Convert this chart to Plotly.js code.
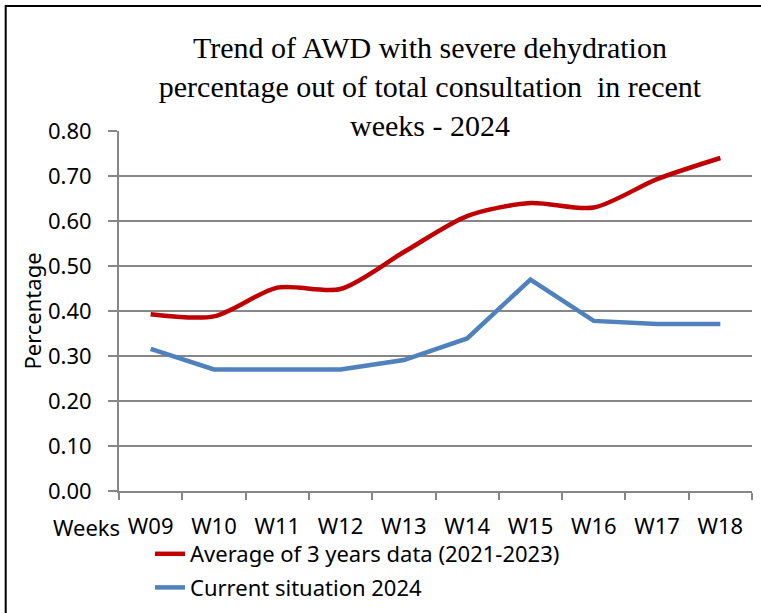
<!DOCTYPE html>
<html>
<head>
<meta charset="utf-8">
<script src="https://cdn.plot.ly/plotly-3.0.1.min.js"></script>
<style>html,body{margin:0;padding:0;background:#fff;}</style>
</head>
<body>
<div id="chart" style="width:761px;height:613px;"></div>
<script>
const weeks = ["W09","W10","W11","W12","W13","W14","W15","W16","W17","W18"];
const avg3Years = [0.393, 0.388, 0.452, 0.449, 0.531, 0.611, 0.640, 0.630, 0.693, 0.740];
const current2024 = [0.316, 0.270, 0.270, 0.270, 0.291, 0.339, 0.470, 0.378, 0.371, 0.371];
const seriesNames = ["Average of 3 years data (2021-2023)", "Current situation 2024"];

const sans = "Noto Sans, sans-serif";
const grey = "#878787";

const traces = [
  {x: weeks, y: avg3Years, name: seriesNames[0], type: "scatter", mode: "lines",
   line: {color: "#C00000", width: 4.5, shape: "spline", smoothing: 0.8}, legendgroup: "a"},
  {x: weeks, y: current2024, name: seriesNames[1], type: "scatter", mode: "lines",
   line: {color: "#4F81BD", width: 4.5}, legendgroup: "b"}
];

const layout = {
  width: 761, height: 613,
  margin: {l: 119, r: 9, t: 131, b: 122, autoexpand: false},
  paper_bgcolor: "#fff", plot_bgcolor: "#fff",
  font: {family: sans, size: 22, color: "#000"},
  title: {
    text: "Trend of AWD with severe dehydration<br>percentage out of total consultation  in recent<br>weeks - 2024",
    font: {family: "Liberation Serif, Times New Roman, serif", size: 30, color: "#000"},
    xref: "container", x: 0.565, xanchor: "center",
    yref: "container", y: 0.905, yanchor: "top"
  },
  xaxis: {
    type: "category", range: [-0.5, 9.5], automargin: false, tickangle: 0,
    tickson: "boundaries", ticks: "outside", ticklen: 7, tickwidth: 2, tickcolor: grey,
    showline: true, linecolor: grey, linewidth: 2, showgrid: false,
    ticklabelstandoff: 15,
    tickfont: {family: sans, size: 22, color: "#000"}
  },
  yaxis: {
    range: [0, 0.8], dtick: 0.1, tickformat: ".2f", automargin: false,
    showgrid: true, gridcolor: grey, gridwidth: 2, zeroline: false,
    showline: true, linecolor: grey, linewidth: 2,
    ticks: "outside", ticklen: 9, tickwidth: 2, tickcolor: grey,
    ticklabelstandoff: 12,
    tickfont: {family: sans, size: 22, color: "#000"},
    title: {text: "Percentage", font: {family: sans, size: 22, color: "#000"}, standoff: 0}
  },
  showlegend: true,
  legend: {
    orientation: "v", x: 0.049, xanchor: "left", y: -0.1167, yanchor: "top",
    traceorder: "grouped", tracegroupgap: 2,
    font: {family: sans, size: 22, color: "#000"},
    bgcolor: "rgba(0,0,0,0)"
  },
  annotations: [{
    text: "Weeks", xref: "paper", yref: "paper", x: 0, y: -0.1,
    xanchor: "right", yanchor: "middle", xshift: 3, showarrow: false,
    font: {family: sans, size: 22, color: "#000"}
  }],
  shapes: [{
    type: "rect", xref: "paper", yref: "paper",
    x0: -0.179, x1: 1.3, y0: -0.6, y1: 1.347,
    line: {color: "#000", width: 2}, fillcolor: "rgba(0,0,0,0)", layer: "above"
  }]
};

Plotly.newPlot("chart", traces, layout, {displayModeBar: false, staticPlot: true});
</script>
</body>
</html>
